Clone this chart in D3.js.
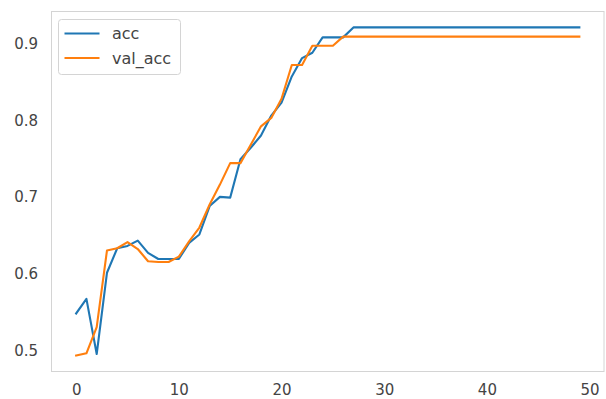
<!DOCTYPE html>
<html><head><meta charset="utf-8">
<script src="https://cdn.jsdelivr.net/npm/d3@7"></script>
<style>body{margin:0;background:#fff} svg{display:block;font-family:"DejaVu Sans",sans-serif}</style>
</head><body><svg id="c" width="606" height="399"></svg>
<script>
const acc = [0.548, 0.567, 0.495, 0.601, 0.633, 0.636, 0.643, 0.627, 0.619, 0.619,
  0.619, 0.640, 0.651, 0.688, 0.700, 0.699, 0.749, 0.764, 0.780, 0.806,
  0.823, 0.857, 0.881, 0.888, 0.908, 0.908, 0.908, 0.921, 0.921, 0.921,
  0.921, 0.921, 0.921, 0.921, 0.921, 0.921, 0.921, 0.921, 0.921, 0.921,
  0.921, 0.921, 0.921, 0.921, 0.921, 0.921, 0.921, 0.921, 0.921, 0.921];
const valAcc = [0.493, 0.496, 0.530, 0.630, 0.633, 0.641, 0.632, 0.616, 0.615, 0.615,
  0.622, 0.642, 0.660, 0.690, 0.716, 0.744, 0.744, 0.768, 0.792, 0.803,
  0.828, 0.872, 0.872, 0.897, 0.897, 0.897, 0.909, 0.909, 0.909, 0.909,
  0.909, 0.909, 0.909, 0.909, 0.909, 0.909, 0.909, 0.909, 0.909, 0.909,
  0.909, 0.909, 0.909, 0.909, 0.909, 0.909, 0.909, 0.909, 0.909, 0.909];
const seriesNames = ["acc", "val_acc"];
const seriesColors = ["#1f77b4", "#ff7f0e"];
const xTicks = [0, 10, 20, 30, 40, 50];
const yTicks = [0.5, 0.6, 0.7, 0.8, 0.9];

const svg = d3.select("#c");
const L = 51, T = 11, R = 604.5, B = 372;
const n = acc.length;
const xs = d3.scaleLinear().domain([-0.05 * (n - 1), (n - 1) * 1.05]).range([L, R]);
const all = acc.concat(valAcc);
const lo = d3.min(all), hi = d3.max(all), m = (hi - lo) * 0.05;
const ys = d3.scaleLinear().domain([lo - m, hi + m]).range([B, T]);

// frame
svg.append("rect").attr("x", L + 0.5).attr("y", T + 0.5)
  .attr("width", R - L - 1).attr("height", B - T - 1)
  .attr("fill", "none").attr("stroke", "#d4d4d4").attr("stroke-width", 1);

// axes (labels only, no tick marks)
const xAxis = d3.axisBottom(xs).tickValues(xTicks).tickSize(0).tickPadding(0).tickFormat(d3.format("d"));
const gx = svg.append("g").attr("transform", `translate(0,${B})`).call(xAxis);
gx.select(".domain").remove();
gx.selectAll("text").attr("font-size", 15).attr("fill", "#444").attr("dy", 0).attr("y", 23)
  .attr("font-family", "DejaVu Sans");

const yAxis = d3.axisLeft(ys).tickValues(yTicks).tickSize(0).tickPadding(0).tickFormat(d3.format(".1f"));
const gy = svg.append("g").attr("transform", `translate(${L},0)`).call(yAxis);
gy.select(".domain").remove();
gy.selectAll("text").attr("font-size", 15).attr("fill", "#444").attr("x", -13)
  .attr("font-family", "DejaVu Sans");

// lines
const data = [acc, valAcc];
const line = d3.line().x((d, i) => xs(i)).y(d => ys(d));
data.forEach((s, k) => {
  svg.append("path").datum(s).attr("d", line).attr("fill", "none")
    .attr("stroke", seriesColors[k]).attr("stroke-width", 2.1)
    .attr("stroke-linejoin", "round").attr("stroke-linecap", "square");
});

// legend
const lg = svg.append("g");
lg.append("rect").attr("x", 58.5).attr("y", 19.5).attr("width", 122).attr("height", 55)
  .attr("rx", 3).attr("fill", "#fff").attr("fill-opacity", 0.8)
  .attr("stroke", "#d4d4d4").attr("stroke-width", 1);
seriesNames.forEach((name, k) => {
  const yy = 33.5 + k * 24.5;
  lg.append("line").attr("x1", 64.5).attr("x2", 99.5).attr("y1", yy).attr("y2", yy)
    .attr("stroke", seriesColors[k]).attr("stroke-width", 2.1);
  lg.append("text").attr("x", 112).attr("y", yy + 5.5).attr("font-size", 16)
    .attr("fill", "#444").attr("font-family", "DejaVu Sans").text(name);
});
</script></body></html>
